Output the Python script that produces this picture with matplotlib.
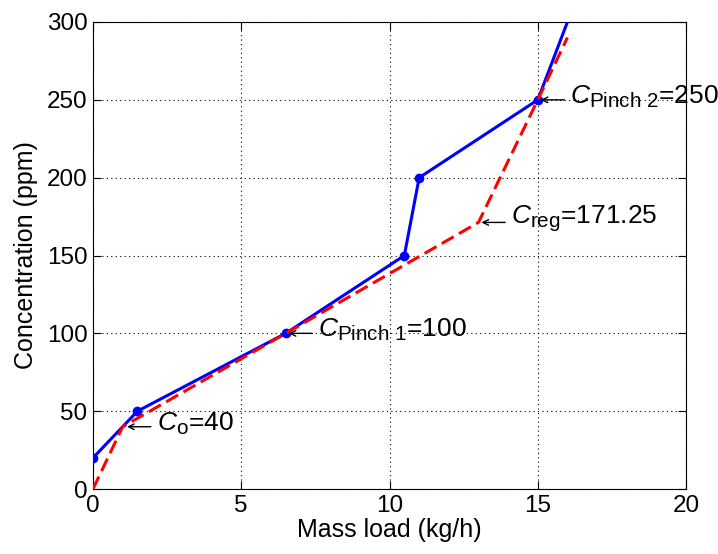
import matplotlib
matplotlib.use("Agg")
import matplotlib.pyplot as plt
import matplotlib._mathtext as mathtext_internal
import numpy as np

# Data
load_blue = [0, 1.5, 6.5, 10.5, 11, 15, 16]
conc_blue = [20, 50, 100, 150, 200, 250, 300]
load_red = [0, 1, 6.5, 13, 15, 16]
conc_red = [0, 40, 100, 171.25, 250, 290]

# annotations: (label, tip x, tip y)
notes = [
    (r"$\mathit{C}_{\mathrm{o}}$=40", 1.15, 40),
    (r"$\mathit{C}_{\mathrm{Pinch\ 1}}$=100", 6.6, 100),
    (r"$\mathit{C}_{\mathrm{reg}}$=171.25", 13.1, 171.25),
    (r"$\mathit{C}_{\mathrm{Pinch\ 2}}$=250", 15.1, 250),
]

plt.rcParams['font.family'] = ['Liberation Sans', 'DejaVu Sans']
plt.rcParams['mathtext.fontset'] = 'custom'
plt.rcParams['mathtext.rm'] = 'Liberation Sans'
plt.rcParams['mathtext.it'] = 'Liberation Sans:italic'
#MATLAB subscripts are a bit larger than matplotlib's default
mathtext_internal.SHRINK_FACTOR = 0.78

fig = plt.figure(figsize=(7.18, 5.54), dpi=100)
ax = fig.add_axes([0.1295, 0.1173, 0.826, 0.843])

#Solid blue curve with markers (last point sits on the top edge, no marker)
ax.plot(load_blue, conc_blue, color="#0000ff", lw=2.2, marker="o", ms=6,
        markevery=list(range(len(load_blue) - 1)), zorder=3)
#Dashed red curve
ax.plot(load_red, conc_red, color="#ff0000", lw=2.2, ls=(0, (4.5, 2)), zorder=4)

for label, tx, ty in notes:
    ax.annotate("", xy=(tx, ty), xytext=(tx + 0.8, ty),
                arrowprops=dict(arrowstyle="->", lw=1, color="black",
                                shrinkA=0, shrinkB=0), zorder=5)
    ax.text(tx + 1.0, ty + 2, label, fontsize=19, va="center", ha="left", zorder=5)

ax.set_xlim(0, 20)
ax.set_ylim(0, 300)
ax.set_xticks(np.arange(0, 21, 5))
ax.set_yticks(np.arange(0, 301, 50))
ax.grid(True, color="black", ls=(0, (1, 3)), lw=0.8)
ax.tick_params(direction="in", top=True, right=True, labelsize=17.5, length=6, pad=4)
ax.set_xlabel("Mass load (kg/h)", fontsize=18, labelpad=1)
ax.set_ylabel("Concentration (ppm)", fontsize=18, labelpad=6)
for spine in ax.spines.values():
    spine.set_linewidth(0.8)

fig.savefig("out.png", dpi=100)
